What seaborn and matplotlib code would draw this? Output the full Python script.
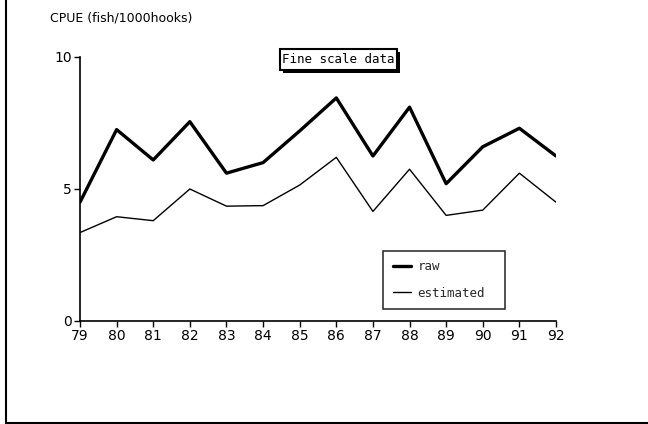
import matplotlib
matplotlib.use("Agg")
import matplotlib.pyplot as plt
import seaborn as sns
import pandas as pd
from matplotlib.lines import Line2D
from matplotlib.patches import Rectangle

years = [79, 80, 81, 82, 83, 84, 85, 86, 87, 88, 89, 90, 91, 92]
raw = [4.5, 7.25, 6.1, 7.55, 5.6, 6.0, 7.2, 8.45, 6.25, 8.1, 5.2, 6.6, 7.3, 6.25]
estimated = [3.35, 3.95, 3.8, 5.0, 4.35, 4.37, 5.15, 6.2, 4.15, 5.75, 4.0, 4.2, 5.6, 4.5]
series_names = ["raw", "estimated"]
xtick_labels = ["79", "80", "81", "82", "83", "84", "85", "86", "87", "88", "89", "90", "91", "92"]
yticks = [0, 5, 10]
title_text = "Fine scale data"
ylabel_text = "CPUE (fish/1000hooks)"

sns.set_style("white")
plt.rcParams['font.family'] = ['DejaVu Sans']

W, H = 648, 424
fig = plt.figure(figsize=(W/100, H/100), dpi=100)
ax = fig.add_axes([80/W, 1-321/H, 476/W, 264/H])

df_raw = pd.DataFrame({"year": years, "cpue": raw})
df_est = pd.DataFrame({"year": years, "cpue": estimated})
sns.lineplot(data=df_raw, x="year", y="cpue", color="black", lw=2.4, ax=ax, label=series_names[0])
sns.lineplot(data=df_est, x="year", y="cpue", color="black", lw=1.0, ax=ax, label=series_names[1])

ax.set_xlim(79, 92)
ax.set_ylim(0, 10)
ax.set_xticks(years)
ax.set_xticklabels(xtick_labels)
ax.set_yticks(yticks)
ax.set_xlabel("")
ax.set_ylabel("")
for s in ["top", "right"]:
    ax.spines[s].set_visible(False)
for s in ["left", "bottom"]:
    ax.spines[s].set_color("black")
    ax.spines[s].set_linewidth(1.2)
ax.tick_params(axis="both", which="both", direction="out", length=4, width=1.0,
               color="black", labelcolor="black", labelsize=10, pad=2, left=True, bottom=True)

leg = ax.legend(loc="lower left", bbox_to_anchor=(0.637, 0.045, 0.256, 0.22),
                mode="expand", borderaxespad=0, frameon=True, fancybox=False,
                handlelength=1.5, borderpad=0.75, labelspacing=1.1, handletextpad=0.5,
                prop={"family": "DejaVu Sans Mono", "size": 9})
leg.get_frame().set_edgecolor("black")
leg.get_frame().set_linewidth(1.2)

# title box with drop shadow
fig.add_artist(Rectangle((283/W, 1-73/H), 117/W, 21/H, transform=fig.transFigure,
                         facecolor="black", edgecolor="black", lw=0))
fig.add_artist(Rectangle((280/W, 1-70/H), 117/W, 21/H, transform=fig.transFigure,
                         facecolor="white", edgecolor="black", lw=1.5))
fig.text(338.5/W, 1-59.5/H, title_text, ha="center", va="center",
         family="DejaVu Sans Mono", fontsize=9, color="black")

fig.text(50/W, 1-18/H, ylabel_text, ha="left", va="center", fontsize=9, color="black")

# outer frame (left and bottom)
fig.add_artist(Line2D([6/W, 6/W], [0, 1], transform=fig.transFigure, color="black", lw=1.5))
fig.add_artist(Line2D([6/W, 1], [1-422.5/H, 1-422.5/H], transform=fig.transFigure, color="black", lw=1.5))

fig.savefig("out.png", dpi=100)
